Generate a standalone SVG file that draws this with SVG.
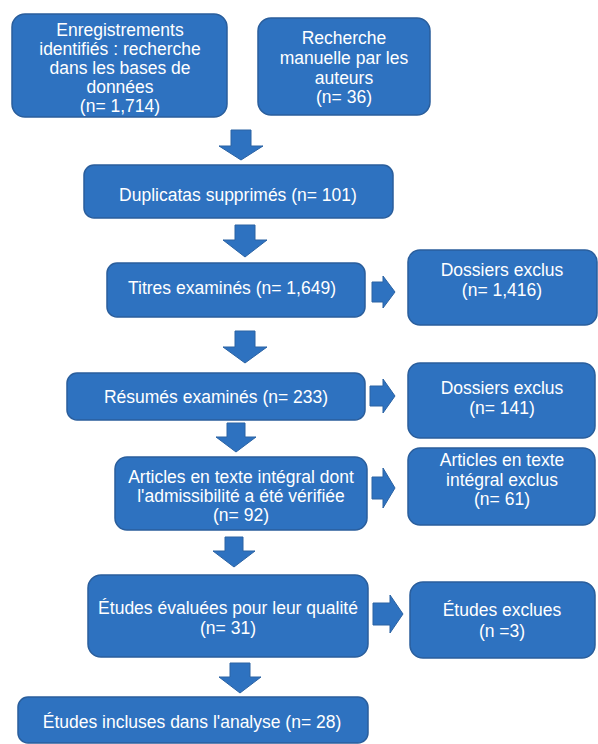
<svg xmlns="http://www.w3.org/2000/svg" width="598" height="744" viewBox="0 0 598 744">
<style>
.box{fill:#2E72C0;stroke:#2A5E9C;stroke-width:1.5}
.arr{fill:#2E72C0;stroke:#2A62A3;stroke-width:1}
text{font-family:"Liberation Sans",Arial,sans-serif;font-size:17.5px;fill:#FFFFFF;text-anchor:middle}
</style>
<rect width="598" height="744" fill="#FFFFFF"/>
<g id="connectors">
<path class="arr" d="M231,130 H251 V146 H263 L241,160 L219,146 H231 Z"/>
<path class="arr" d="M235,225 H255 V240 H267 L245,257 L223,240 H235 Z"/>
<path class="arr" d="M235,331 H255 V347 H267 L245,363 L223,347 H235 Z"/>
<path class="arr" d="M227,423 H245 V437 H256 L236,452 L216,437 H227 Z"/>
<path class="arr" d="M225,537 H243 V551 H255 L234,567 L213,551 H225 Z"/>
<path class="arr" d="M230,663 H250 V677 H261 L240,693 L219,677 H230 Z"/>
<path class="arr" d="M372,282 H383 V276 L395,292 L383,308 V302 H372 Z"/>
<path class="arr" d="M370,386 H383 V379 L395,396 L383,413 V406 H370 Z"/>
<path class="arr" d="M372,477 H383 V468 L395,488 L383,508 V499 H372 Z"/>
<path class="arr" d="M373,603 H390 V595 L403,614 L390,633 V625 H373 Z"/>
</g>
<g id="n1">
<rect class="box" x="12" y="14" width="215" height="103" rx="13"/>
<text x="120" y="36">Enregistrements</text>
<text x="120" y="55">identifiés : recherche</text>
<text x="120" y="74">dans les bases de</text>
<text x="120" y="93">données</text>
<text x="120" y="112">(n= 1,714)</text>
</g>
<g id="n2">
<rect class="box" x="258" y="18" width="172" height="97" rx="13"/>
<text x="344" y="44">Recherche</text>
<text x="344" y="64">manuelle par les</text>
<text x="344" y="84">auteurs</text>
<text x="344" y="103">(n= 36)</text>
</g>
<g id="n3">
<rect class="box" x="84" y="165" width="309" height="53" rx="10"/>
<text x="238" y="201">Duplicatas supprimés (n= 101)</text>
</g>
<g id="n4">
<rect class="box" x="107" y="263" width="258" height="54" rx="10"/>
<text x="232" y="294">Titres examinés (n= 1,649)</text>
</g>
<g id="n5">
<rect class="box" x="408" y="250" width="189" height="75" rx="12"/>
<text x="502" y="276">Dossiers exclus</text>
<text x="502" y="296">(n= 1,416)</text>
</g>
<g id="n6">
<rect class="box" x="67" y="373" width="298" height="47" rx="10"/>
<text x="216" y="403">Résumés examinés (n= 233)</text>
</g>
<g id="n7">
<rect class="box" x="408" y="363" width="187" height="75" rx="12"/>
<text x="502" y="394">Dossiers exclus</text>
<text x="502" y="414">(n= 141)</text>
</g>
<g id="n8">
<rect class="box" x="115" y="457" width="252" height="73" rx="12"/>
<text x="241" y="483">Articles en texte intégral dont</text>
<text x="241" y="502">l'admissibilité a été vérifiée</text>
<text x="241" y="521">(n= 92)</text>
</g>
<g id="n9">
<rect class="box" x="408" y="448" width="187" height="77" rx="12"/>
<text x="502" y="466">Articles en texte</text>
<text x="502" y="486">intégral exclus</text>
<text x="502" y="505">(n= 61)</text>
</g>
<g id="n10">
<rect class="box" x="88" y="575" width="280" height="82" rx="13"/>
<text x="228" y="614">Études évaluées pour leur qualité</text>
<text x="228" y="634">(n= 31)</text>
</g>
<g id="n11">
<rect class="box" x="410" y="582" width="185" height="76" rx="13"/>
<text x="502" y="616">Études exclues</text>
<text x="502" y="637">(n =3)</text>
</g>
<g id="n12">
<rect class="box" x="18" y="697" width="350" height="46" rx="10"/>
<text x="192" y="728">Études incluses dans l'analyse (n= 28)</text>
</g>
</svg>
